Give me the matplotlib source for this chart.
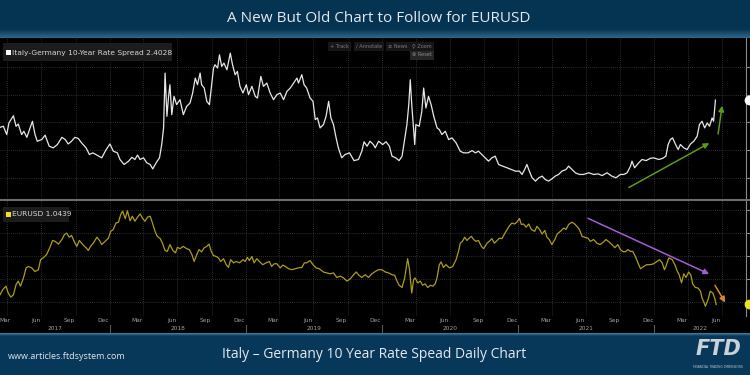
import numpy as np
import pandas as pd
import matplotlib
matplotlib.use("Agg")
import matplotlib.pyplot as plt
import matplotlib.dates as mdates
import matplotlib.transforms as mtransforms
from matplotlib.patches import Rectangle
from matplotlib.lines import Line2D
from matplotlib.colors import LinearSegmentedColormap

start = pd.Timestamp("2017-03-12")
end = pd.Timestamp("2022-09-04")

# Italy-Germany 10y spread (pct pts), days counted from `start`
spread_days = [0, 9, 18, 24, 36, 43, 49, 58, 64, 72,
               87, 94, 100, 112, 121, 132, 143, 154, 166, 175,
               183, 192, 201, 210, 219, 231, 240, 249, 260, 273,
               285, 295, 304, 315, 322, 333, 345, 354, 362, 369,
               376, 385, 394, 403, 410, 419, 428, 434, 439, 443,
               448, 452, 456, 461, 467, 474, 483, 492, 501, 510,
               517, 524, 530, 537, 541, 548, 555, 562, 568, 573,
               577, 584, 589, 595, 601, 609, 618, 624, 631, 637,
               644, 652, 661, 667, 676, 685, 691, 700, 707, 716,
               725, 734, 743, 752, 761, 770, 779, 788, 797, 801,
               810, 816, 823, 832, 840, 846, 852, 859, 868, 875,
               882, 888, 895, 902, 908, 917, 926, 938, 950, 962,
               971, 977, 985, 993, 1002,
               1007, 1016, 1027, 1036, 1045, 1052, 1062, 1071, 1079, 1086,
               1092, 1097, 1101, 1105, 1113, 1116, 1125, 1132, 1137, 1143,
               1150, 1157, 1164, 1173, 1179, 1186, 1195, 1204, 1213, 1224,
               1235, 1244, 1256, 1267, 1276, 1284, 1293, 1302, 1311, 1320,
               1329, 1338, 1349, 1361, 1372, 1383, 1394, 1401, 1408, 1414,
               1420, 1428, 1437, 1446, 1455, 1463, 1472, 1481, 1490, 1499,
               1508, 1519, 1526, 1535, 1544, 1555, 1566, 1580, 1593, 1605,
               1616, 1629, 1642, 1653, 1665, 1674, 1683, 1692, 1696, 1703,
               1714, 1723, 1734, 1745, 1754, 1768, 1778, 1787, 1793, 1799,
               1805, 1813, 1820, 1826, 1835, 1844, 1853, 1862, 1871, 1877,
               1884, 1891, 1898, 1904, 1911, 1915, 1920]
spread_vals = [1.91, 1.93, 1.78, 1.99, 2.12, 1.93, 1.97, 1.78, 1.84, 1.73,
               2.02, 1.78, 1.66, 1.69, 1.77, 1.57, 1.54, 1.60, 1.73, 1.69,
               1.61, 1.66, 1.73, 1.71, 1.63, 1.54, 1.42, 1.45, 1.41, 1.36,
               1.51, 1.61, 1.48, 1.45, 1.33, 1.24, 1.30, 1.37, 1.33, 1.41,
               1.33, 1.36, 1.27, 1.24, 1.16, 1.27, 1.36, 1.60, 1.90, 2.89,
               2.11, 2.44, 2.68, 2.14, 2.47, 2.32, 2.41, 2.14, 2.29, 2.35,
               2.53, 2.80, 2.68, 2.89, 2.68, 2.62, 2.38, 2.32, 2.68, 2.98,
               3.04, 2.98, 3.22, 3.01, 3.07, 2.95, 3.25, 3.04, 2.86, 2.92,
               2.65, 2.53, 2.68, 2.50, 2.65, 2.47, 2.44, 2.83, 2.65, 2.71,
               2.53, 2.41, 2.50, 2.53, 2.41, 2.56, 2.62, 2.71, 2.80, 2.71,
               2.86, 2.68, 2.62, 2.44, 2.38, 2.05, 2.08, 1.90, 1.96, 2.11,
               2.38, 2.08, 1.96, 1.72, 1.54, 1.36, 1.42, 1.45, 1.31, 1.33,
               1.48, 1.65, 1.57, 1.66, 1.60,
               1.54, 1.66, 1.60, 1.65, 1.57, 1.39, 1.36, 1.31, 1.39, 1.69,
               1.96, 2.32, 2.77, 2.32, 1.60, 1.96, 1.93, 2.20, 2.62, 2.26,
               2.47, 2.32, 2.11, 1.90, 1.87, 1.78, 1.84, 1.69, 1.72, 1.63,
               1.48, 1.45, 1.45, 1.49, 1.45, 1.48, 1.42, 1.36, 1.30, 1.36,
               1.39, 1.24, 1.21, 1.18, 1.15, 1.12, 1.12, 1.06, 1.15, 1.24,
               1.13, 1.00, 0.94, 1.00, 1.03, 0.97, 0.94, 0.98, 1.03, 1.06,
               1.12, 1.15, 1.21, 1.15, 1.09, 1.06, 1.06, 1.09, 1.06, 1.07,
               1.04, 1.09, 1.03, 1.00, 1.06, 1.06, 1.09, 1.21, 1.30, 1.18,
               1.27, 1.33, 1.31, 1.35, 1.36, 1.33, 1.35, 1.39, 1.60, 1.69,
               1.72, 1.60, 1.51, 1.60, 1.54, 1.51, 1.61, 1.66, 1.75, 1.96,
               2.02, 1.90, 1.99, 1.93, 2.08, 2.02, 2.4028]

# EURUSD, days counted from `start`
eur_days = [0, 7, 16, 22, 29, 36, 43, 49, 55, 63,
            70, 76, 85, 94, 103, 109, 116, 125, 134, 141,
            148, 157, 166, 173, 179, 186, 192, 199, 206, 213,
            222, 231, 237, 243, 251, 260, 267, 273, 282, 291,
            297, 304, 311, 318, 324, 329, 336, 342, 349, 355,
            362, 369, 376, 383, 389, 396, 403, 410, 416, 422,
            430, 436, 443, 449, 456, 464, 471, 476, 483, 492,
            501, 508, 515, 521, 528, 534, 541, 548, 555, 561,
            567, 573, 580, 586, 592, 600, 607, 613, 619, 627,
            634, 643, 652, 658, 664, 669, 676, 682, 689, 696,
            705, 714, 723, 729, 736, 743, 752, 759, 766, 775,
            783, 792, 801, 810, 817, 823, 832, 840, 848, 857,
            868, 877, 886, 895, 904, 913, 922, 931, 940, 949,
            956, 963, 971, 980, 989, 998,
            1007, 1016, 1025, 1034, 1043, 1052, 1059, 1065, 1071, 1079,
            1086, 1094, 1099, 1105, 1110, 1114, 1121, 1128, 1134, 1141,
            1148, 1155, 1161, 1168, 1173, 1179, 1184, 1190, 1197, 1206,
            1215, 1224, 1231, 1235, 1241, 1247, 1253, 1259, 1265, 1271,
            1277, 1284, 1292, 1298, 1307, 1313, 1320, 1327, 1334, 1340,
            1347, 1353, 1361, 1368, 1374, 1381, 1387, 1394, 1399, 1405,
            1412, 1419, 1426, 1435, 1441, 1448, 1455, 1462, 1468, 1474,
            1481, 1489, 1495, 1504, 1513, 1519, 1526, 1535, 1542, 1548,
            1555, 1562, 1569, 1578, 1584, 1593, 1602, 1611, 1620, 1626,
            1634, 1642, 1650, 1658, 1665, 1671, 1678, 1685, 1692, 1698,
            1705, 1712, 1719, 1727, 1736, 1745, 1754, 1763, 1770, 1777,
            1783, 1787, 1795, 1804, 1811, 1817, 1823, 1829, 1835, 1841,
            1848, 1854, 1859, 1866, 1873, 1880, 1884, 1889, 1893, 1900,
            1906, 1913, 1918, 1922]
eur_vals = [1.065, 1.076, 1.084, 1.069, 1.060, 1.065, 1.087, 1.095, 1.084, 1.102,
            1.124, 1.127, 1.124, 1.116, 1.120, 1.142, 1.146, 1.153, 1.169, 1.184,
            1.182, 1.176, 1.186, 1.197, 1.200, 1.191, 1.195, 1.182, 1.171, 1.184,
            1.175, 1.168, 1.162, 1.171, 1.179, 1.191, 1.184, 1.175, 1.182, 1.189,
            1.204, 1.208, 1.222, 1.224, 1.241, 1.248, 1.232, 1.249, 1.227, 1.237,
            1.226, 1.235, 1.242, 1.232, 1.226, 1.235, 1.237, 1.220, 1.204, 1.193,
            1.188, 1.178, 1.162, 1.160, 1.175, 1.162, 1.157, 1.169, 1.166, 1.171,
            1.166, 1.164, 1.153, 1.138, 1.153, 1.164, 1.159, 1.168, 1.171, 1.176,
            1.160, 1.151, 1.149, 1.146, 1.138, 1.144, 1.131, 1.125, 1.142, 1.135,
            1.138, 1.135, 1.142, 1.138, 1.147, 1.140, 1.149, 1.135, 1.144, 1.138,
            1.131, 1.135, 1.138, 1.127, 1.133, 1.133, 1.124, 1.130, 1.127, 1.122,
            1.120, 1.122, 1.124, 1.125, 1.135, 1.135, 1.140, 1.131, 1.124, 1.122,
            1.115, 1.113, 1.111, 1.113, 1.103, 1.106, 1.102, 1.095, 1.100, 1.109,
            1.115, 1.108, 1.103, 1.109, 1.103, 1.111,
            1.116, 1.120, 1.120, 1.115, 1.113, 1.109, 1.108, 1.096, 1.086, 1.081,
            1.102, 1.144, 1.120, 1.069, 1.098, 1.102, 1.091, 1.095, 1.086, 1.089,
            1.081, 1.086, 1.084, 1.089, 1.103, 1.131, 1.137, 1.125, 1.131, 1.124,
            1.127, 1.142, 1.162, 1.178, 1.182, 1.191, 1.184, 1.189, 1.193, 1.186,
            1.182, 1.184, 1.171, 1.166, 1.178, 1.182, 1.188, 1.178, 1.184, 1.189,
            1.188, 1.197, 1.208, 1.217, 1.222, 1.220, 1.224, 1.232, 1.219, 1.220,
            1.213, 1.220, 1.208, 1.204, 1.215, 1.208, 1.198, 1.206, 1.191, 1.186,
            1.175, 1.186, 1.198, 1.204, 1.211, 1.208, 1.219, 1.224, 1.220, 1.215,
            1.208, 1.193, 1.191, 1.189, 1.182, 1.186, 1.178, 1.175, 1.181, 1.186,
            1.181, 1.175, 1.168, 1.175, 1.164, 1.160, 1.159, 1.164, 1.160, 1.160,
            1.149, 1.135, 1.122, 1.127, 1.131, 1.131, 1.133, 1.138, 1.142, 1.135,
            1.120, 1.127, 1.146, 1.142, 1.131, 1.118, 1.108, 1.091, 1.111, 1.103,
            1.115, 1.108, 1.089, 1.081, 1.080, 1.073, 1.058, 1.049, 1.040, 1.054,
            1.073, 1.069, 1.058, 1.0439]

month_names = ["Mar", "Jun", "Sep", "Dec"]
years = [2017, 2018, 2019, 2020, 2021, 2022]
spread_ticks = [1.0, 1.5, 2.0, 2.5, 3.0]
eur_ticks = [1.05, 1.10, 1.15, 1.20, 1.25]

# hand-drawn trend arrows: (day, value) -> (day, value)
green_arrows = [((1681, 0.80), (1910, 1.65)), ((1926, 1.74), (1939, 2.35))]
purple_arrow = ((1571, 1.235), (1910, 1.108))
orange_arrow = ((1915, 1.091), (1950, 1.043))

W, H = 750, 375


def box(x0, y0, x1, y1):
    return [x0 / W, 1 - y1 / H, (x1 - x0) / W, (y1 - y0) / H]


def when(d):
    return start + pd.to_timedelta(np.asarray(d), unit="D")


def dnum(d):
    return mdates.date2num((start + pd.Timedelta(days=d)).to_pydatetime())


fig = plt.figure(figsize=(7.5, 3.75), dpi=100, facecolor="black")

# header / footer bands
head = fig.add_axes(box(0, 0, 750, 38))
head_cmap = LinearSegmentedColormap.from_list("h", ["#053352", "#063554", "#2b6684"])
grad = np.concatenate([np.zeros(28), np.linspace(0.45, 1, 10)])[:, None]
head.imshow(grad, aspect="auto", cmap=head_cmap, vmin=0, vmax=1)
head.axis("off")
head.text(0.505, 0.5, "A New But Old Chart to Follow for EURUSD", ha="center", va="center",
          color="#e4e9ee", fontsize=11, family="Open Sans", transform=head.transAxes)

foot = fig.add_axes(box(0, 333, 750, 375))
foot_cmap = LinearSegmentedColormap.from_list("f", ["#083859", "#3a7896"])
grad = np.concatenate([np.linspace(1, 0.2, 3), np.zeros(39)])[:, None]
foot.imshow(grad, aspect="auto", cmap=foot_cmap, vmin=0, vmax=1)
foot.axis("off")
foot.text(8 / W, 0.45, "www.articles.ftdsystem.com", ha="left", va="center",
          color="#dfe6ec", fontsize=6.5, family="Open Sans", transform=foot.transAxes)
foot.text(374 / W, 0.48, "Italy \u2013 Germany 10 Year Rate Spead Daily Chart", ha="center", va="center",
          color="#e4e9ee", fontsize=10, family="Open Sans", transform=foot.transAxes)
foot.text(718 / W, 0.62, "FTD", ha="center", va="center", color="#c9d2d9", fontsize=15,
          fontweight="bold", style="italic", transform=foot.transAxes)
foot.text(718 / W, 0.18, "FINANCIAL TRADING DIMENSIONS", ha="center", va="center",
          color="#b8c4cc", fontsize=2.2, transform=foot.transAxes)

ax1 = fig.add_axes(box(0, 38, 746, 198))
ax2 = fig.add_axes(box(0, 200, 746, 316))
strip = fig.add_axes(box(0, 316, 746, 333))

grid_dates = pd.date_range("2017-04-01", "2022-07-01", freq="QS")
for ax, ticks, lim in [(ax1, spread_ticks, (0.635, 3.523)), (ax2, eur_ticks, (1.0187, 1.2725))]:
    ax.set_facecolor("black")
    ax.set_xlim(start, end)
    ax.set_ylim(*lim)
    ax.set_xticks(grid_dates)
    ax.set_yticks(ticks)
    ax.yaxis.tick_right()
    ax.tick_params(axis="x", length=0, labelbottom=False)
    ax.tick_params(axis="y", length=3, color="#8a8a8a", labelright=False)
    ax.grid(True, color="#3b3b3b", lw=0.6, ls=(0, (1, 1.5)))
    for s in ["top", "left", "bottom"]:
        ax.spines[s].set_visible(False)
    ax.spines["right"].set_color("#8a8a8a")
    ax.spines["right"].set_linewidth(0.8)

ax1.plot(when(spread_days), spread_vals, color="#e8e8e8", lw=0.9)
ax2.plot(when(eur_days), eur_vals, color="#ac9d1a", lw=0.9)

# last-value dots on the right edge
for ax, val, col in [(ax1, spread_vals[-1], "white"), (ax2, eur_vals[-1], "#f2e21a")]:
    tr = mtransforms.blended_transform_factory(ax.transAxes, ax.transData)
    ax.plot([1.004], [val], "o", color=col, ms=6, transform=tr, clip_on=False, zorder=5)

for a, b in green_arrows:
    ax1.annotate("", xy=(dnum(b[0]), b[1]), xytext=(dnum(a[0]), a[1]),
                 arrowprops=dict(arrowstyle="-|>", color="#5c9a1c", lw=1.1, mutation_scale=8))
for (a, b), col in [(purple_arrow, "#a25ed6"), (orange_arrow, "#d98a1e")]:
    ax2.annotate("", xy=(dnum(b[0]), b[1]), xytext=(dnum(a[0]), a[1]),
                 arrowprops=dict(arrowstyle="-|>", color=col, lw=1.1, mutation_scale=8))

# separator between the two panes
fig.add_artist(Line2D([0, 1], [1 - 199.5 / H] * 2, color="#6c6c6c", lw=1.5))

# legends
fig.add_artist(Rectangle((3 / W, 1 - 61 / H), 169 / W, 18 / H, facecolor="#1c1c1c",
                         edgecolor="none", transform=fig.transFigure))
fig.add_artist(Rectangle((6 / W, 1 - 55 / H), 5 / W, 5 / H, facecolor="white",
                         edgecolor="none", transform=fig.transFigure))
fig.text(12 / W, 1 - 52.5 / H, "Italy-Germany 10-Year Rate Spread 2.4028", ha="left", va="center",
         color="#d6d6d6", fontsize=5.4)
fig.add_artist(Rectangle((3 / W, 1 - 222 / H), 66 / W, 15 / H, facecolor="#1c1c1c",
                         edgecolor="none", transform=fig.transFigure))
fig.add_artist(Rectangle((6 / W, 1 - 217 / H), 5 / W, 5 / H, facecolor="#f2e21a",
                         edgecolor="none", transform=fig.transFigure))
fig.text(12 / W, 1 - 214.5 / H, "EURUSD 1.0439", ha="left", va="center",
         color="#d6d6d6", fontsize=5.4)

# chart toolbar
for x, label in [(339, "+ Track"), (369, "\u2215 Annotate"), (398, "\u2261 News"), (422, "\u26b2 Zoom")]:
    fig.text(x / W, 1 - 46 / H, label, ha="center", va="center", color="#7c7c7c", fontsize=3.6,
             family=["DejaVu Sans"],
             bbox=dict(boxstyle="square,pad=0.4", facecolor="#161616", edgecolor="none"))
fig.text(422 / W, 1 - 55 / H, "\u2297 Reset", ha="center", va="center", color="#8a8a8a", fontsize=3.6,
         bbox=dict(boxstyle="square,pad=0.4", facecolor="#262626", edgecolor="none"))

# date strip
strip.set_facecolor("black")
strip.set_xlim(start, end)
strip.set_ylim(0, 1)
strip.axis("off")
for y in years:
    for i, m in enumerate(month_names):
        d = pd.Timestamp(year=y, month=3 * i + 3, day=15)
        if start - pd.Timedelta(days=10) <= d <= end:
            d = max(d, start + pd.Timedelta(days=13))
            strip.text(d, 0.72, m, ha="center", va="center", color="#a0a0a0", fontsize=4.2)
edges = [start] + [pd.Timestamp(year=y, month=1, day=1) for y in years[1:]] + [end]
for i, y in enumerate(years):
    mid = edges[i] + (edges[i + 1] - edges[i]) / 2
    strip.text(mid, 0.25, str(y), ha="center", va="center", color="#a0a0a0", fontsize=4.2)
for d in edges[1:-1]:
    strip.plot([d, d], [0.05, 0.5], color="#5a5a5a", lw=0.8)

fig.savefig("out.png", dpi=100, facecolor="black")
